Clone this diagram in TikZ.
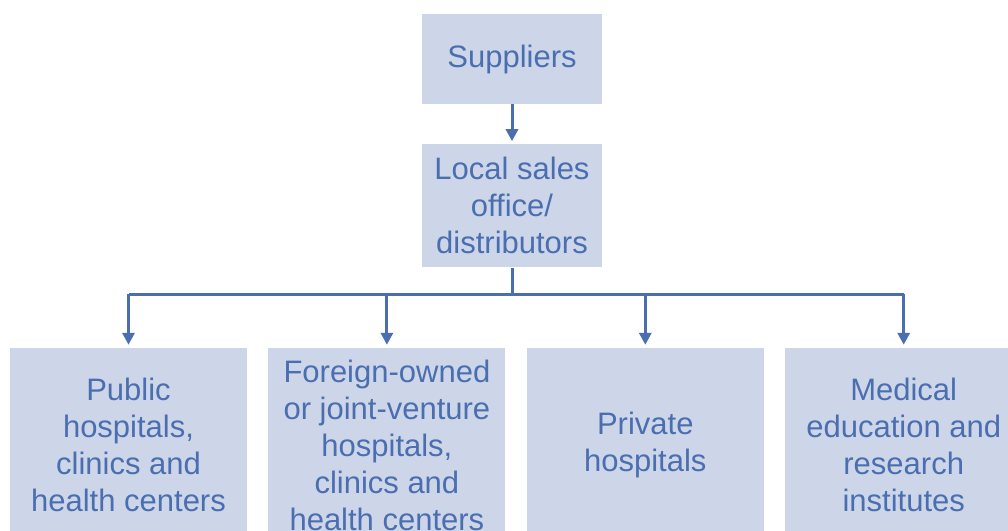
\documentclass[tikz,border=0pt]{standalone}
\usepackage{fontspec}
\setmainfont{Liberation Sans}
\usetikzlibrary{positioning,arrows.meta}

\definecolor{boxfill}{HTML}{CDD6E8}
\definecolor{inkblue}{HTML}{4A6EB0}

\tikzset{
  box/.style={fill=boxfill, text=inkblue, align=center, inner sep=0pt,
    font=\fontsize{31}{37}\selectfont},
  link/.style={draw=inkblue, line width=3pt},
  arr/.style={link, -{Triangle[length=12pt,width=12pt]}, shorten >=3pt},
}

\begin{document}
\begin{tikzpicture}[x=1pt,y=1pt]
    \clip (0,0) rectangle (1008,-530);
    \node[box, minimum width=180pt, minimum height=90pt] (sup) at (512,-59) {Suppliers};
    \node[box, minimum width=180pt, minimum height=123pt, below=40pt of sup] (local)
        {Local sales\\office/\\distributors};
    % bottom row
    \node[box, minimum width=237pt, minimum height=194pt] (pub) at (128.5,-445)
        {Public\\hospitals,\\clinics and\\health centers};
    \node[box, minimum width=237pt, minimum height=194pt, right=21pt of pub] (foreign)
        {Foreign-owned\\or joint-venture\\hospitals,\\clinics and\\health centers};
    \node[box, minimum width=237pt, minimum height=194pt, right=21pt of foreign] (priv)
        {Private\\hospitals};
    \node[box, minimum width=237pt, minimum height=194pt, right=21pt of priv] (med)
        {Medical\\education and\\research\\institutes};
    \coordinate (bus) at (0,-294);
    \draw[arr] (sup) -- (local);
    \draw[link] (local.south) -- (local.south |- bus);
    \draw[link] (pub.north |- bus) -- (med.north |- bus);
    \foreach \n in {pub,foreign,priv,med}
        \draw[arr] (\n.north |- bus) -- (\n.north);
\end{tikzpicture}
\end{document}
